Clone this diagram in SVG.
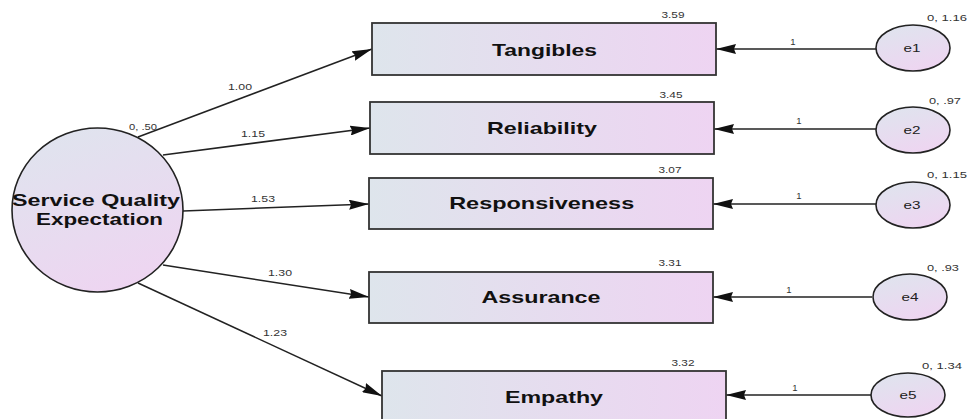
<svg xmlns="http://www.w3.org/2000/svg" width="970" height="419" viewBox="0 0 970 419">
<defs>
<linearGradient id="boxg" x1="0" y1="0" x2="1" y2="0">
<stop offset="0" stop-color="#dee5ec"/>
<stop offset="1" stop-color="#eed4f2"/>
</linearGradient>
<linearGradient id="circg" x1="0.2" y1="0" x2="0.6" y2="1">
<stop offset="0" stop-color="#dfe4ee"/>
<stop offset="1" stop-color="#eed5f1"/>
</linearGradient>
<marker id="arr" markerUnits="userSpaceOnUse" markerWidth="21" markerHeight="10" refX="20" refY="5" orient="auto">
<path d="M0,0 L20,5 L0,10 L2,5 z" fill="#111"/>
</marker>
<style>
.box{fill:url(#boxg);stroke:#333;stroke-width:1.8}
.ell{fill:url(#circg);stroke:#222;stroke-width:1.6}
.lbl{font-family:"Liberation Sans",Arial,sans-serif;font-weight:bold;font-size:17px;fill:#111;text-anchor:middle}
.big{font-size:16px}
.sm{font-family:"Liberation Sans",Arial,sans-serif;font-size:9.5px;fill:#333;text-anchor:middle}
.el{font-family:"Liberation Sans",Arial,sans-serif;font-size:11px;fill:#222;text-anchor:middle}
.con{stroke:#222;stroke-width:1.5;fill:none;marker-end:url(#arr)}
</style>
</defs>
<rect width="970" height="419" fill="#fff"/>

<g id="connectors">
<line class="con" x1="138" y1="137" x2="372" y2="49"/>
<line class="con" x1="163" y1="155" x2="370" y2="128"/>
<line class="con" x1="183" y1="211" x2="369" y2="204"/>
<line class="con" x1="163" y1="265" x2="369" y2="297"/>
<line class="con" x1="138" y1="283" x2="382" y2="396"/>
<line class="con" x1="876" y1="49" x2="716" y2="49"/>
<line class="con" x1="876" y1="129" x2="714" y2="129"/>
<line class="con" x1="876" y1="204" x2="713" y2="204"/>
<line class="con" x1="872" y1="297" x2="713" y2="297"/>
<line class="con" x1="871" y1="395" x2="726" y2="395"/>
<text class="sm" x="240" y="90" textLength="24" lengthAdjust="spacingAndGlyphs">1.00</text>
<text class="sm" x="253" y="137" textLength="24" lengthAdjust="spacingAndGlyphs">1.15</text>
<text class="sm" x="263" y="202" textLength="24" lengthAdjust="spacingAndGlyphs">1.53</text>
<text class="sm" x="280" y="276" textLength="24" lengthAdjust="spacingAndGlyphs">1.30</text>
<text class="sm" x="275" y="336" textLength="24" lengthAdjust="spacingAndGlyphs">1.23</text>
<text class="sm" x="793" y="45">1</text>
<text class="sm" x="799" y="124">1</text>
<text class="sm" x="799" y="199">1</text>
<text class="sm" x="789" y="293">1</text>
<text class="sm" x="795" y="391">1</text>
</g>

<g id="sqe">
<ellipse class="ell" cx="97.5" cy="210" rx="85.5" ry="82"/>
<text class="lbl big" x="96" y="206" textLength="168" lengthAdjust="spacingAndGlyphs">Service Quality</text>
<text class="lbl big" x="99.5" y="225" textLength="127" lengthAdjust="spacingAndGlyphs">Expectation</text>
<text class="sm" x="143" y="130" textLength="28" lengthAdjust="spacingAndGlyphs">0, .50</text>
</g>

<g id="tangibles">
<rect class="box" x="372" y="23" width="344" height="52"/>
<text class="lbl" x="544.5" y="56" textLength="105" lengthAdjust="spacingAndGlyphs">Tangibles</text>
<text class="sm" x="673" y="18" textLength="23" lengthAdjust="spacingAndGlyphs">3.59</text>
</g>
<g id="reliability">
<rect class="box" x="370" y="102" width="344" height="52"/>
<text class="lbl" x="542" y="134" textLength="110" lengthAdjust="spacingAndGlyphs">Reliability</text>
<text class="sm" x="671" y="98" textLength="23" lengthAdjust="spacingAndGlyphs">3.45</text>
</g>
<g id="responsiveness">
<rect class="box" x="369" y="178" width="344" height="51"/>
<text class="lbl" x="541.7" y="209" textLength="185" lengthAdjust="spacingAndGlyphs">Responsiveness</text>
<text class="sm" x="670" y="173" textLength="23" lengthAdjust="spacingAndGlyphs">3.07</text>
</g>
<g id="assurance">
<rect class="box" x="369" y="272" width="344" height="51"/>
<text class="lbl" x="541" y="303" textLength="119" lengthAdjust="spacingAndGlyphs">Assurance</text>
<text class="sm" x="670" y="266" textLength="23" lengthAdjust="spacingAndGlyphs">3.31</text>
</g>
<g id="empathy">
<rect class="box" x="382" y="371" width="344" height="52"/>
<text class="lbl" x="554" y="403" textLength="98" lengthAdjust="spacingAndGlyphs">Empathy</text>
<text class="sm" x="683" y="366" textLength="23" lengthAdjust="spacingAndGlyphs">3.32</text>
</g>

<g id="e1">
<ellipse class="ell" cx="913" cy="48" rx="37" ry="23"/>
<text class="el" x="912" y="52" textLength="17" lengthAdjust="spacingAndGlyphs">e1</text>
<text class="sm" x="947" y="21" textLength="40" lengthAdjust="spacingAndGlyphs">0, 1.16</text>
</g>
<g id="e2">
<ellipse class="ell" cx="913" cy="130" rx="37" ry="23"/>
<text class="el" x="912" y="134" textLength="17" lengthAdjust="spacingAndGlyphs">e2</text>
<text class="sm" x="945" y="104" textLength="32" lengthAdjust="spacingAndGlyphs">0, .97</text>
</g>
<g id="e3">
<ellipse class="ell" cx="913" cy="205" rx="37" ry="23"/>
<text class="el" x="912" y="209" textLength="17" lengthAdjust="spacingAndGlyphs">e3</text>
<text class="sm" x="947" y="178" textLength="40" lengthAdjust="spacingAndGlyphs">0, 1.15</text>
</g>
<g id="e4">
<ellipse class="ell" cx="910" cy="297" rx="37" ry="23"/>
<text class="el" x="910" y="301" textLength="17" lengthAdjust="spacingAndGlyphs">e4</text>
<text class="sm" x="943" y="271" textLength="32" lengthAdjust="spacingAndGlyphs">0, .93</text>
</g>
<g id="e5">
<ellipse class="ell" cx="908" cy="395" rx="37" ry="22"/>
<text class="el" x="908" y="399" textLength="17" lengthAdjust="spacingAndGlyphs">e5</text>
<text class="sm" x="942" y="369" textLength="40" lengthAdjust="spacingAndGlyphs">0, 1.34</text>
</g>
</svg>
